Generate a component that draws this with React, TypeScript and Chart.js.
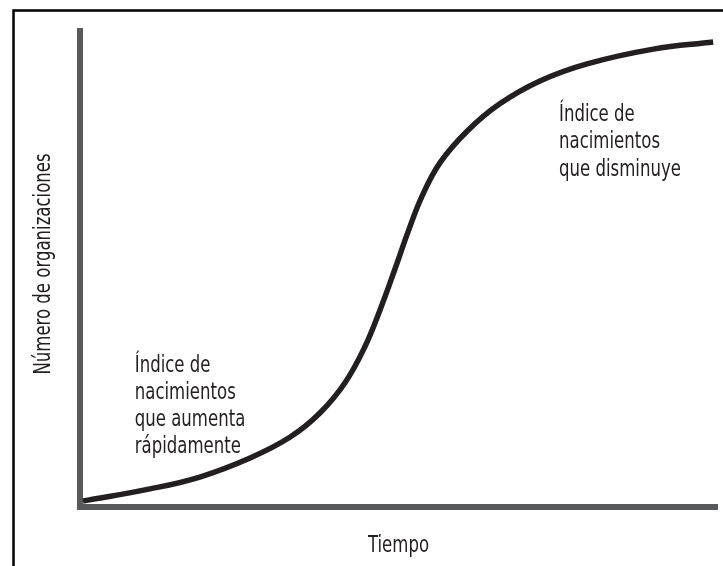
import React, { useEffect, useRef } from "react";
import { Chart, registerables } from "chart.js";

Chart.register(...registerables);

// Curve data (arbitrary units: time 0..100, organizations 0..100)
const timeValues = [0.47, 11.0, 18.8, 26.7, 33.0, 37.7, 41.6, 44.7, 47.1, 49.5, 51.5, 53.7, 56.5, 60.8, 65.9, 72.2, 79.6, 90.0, 99.4];
const orgValues = [1.26, 3.8, 6.3, 10.3, 14.7, 19.8, 26.1, 33.6, 41.4, 50.2, 57.8, 65.3, 72.3, 79.0, 84.7, 89.5, 93.1, 96.2, 97.7];

const xTitle = "Tiempo";
const yTitle = "Número de organizaciones";

const leftNoteLines = ["Índice de", "nacimientos", "que aumenta", "rápidamente"];
const rightNoteLines = ["Índice de", "nacimientos", "que disminuye"];

const FONT_FAMILY = '"DejaVu Sans Condensed", "Liberation Sans Narrow", sans-serif';
const TEXT_COLOR = "#231f20";
const AXIS_COLOR = "#58595b";
const FONT_SIZE = 23;
const SQUEEZE = 0.8;

function squeezedText(ctx: any, text: string, x: number, y: number, rot = 0) {
  ctx.save();
  ctx.translate(x, y);
  if (rot) ctx.rotate(rot);
  ctx.scale(SQUEEZE, 1);
  ctx.fillText(text, 0, 0);
  ctx.restore();
}

const notesPlugin = {
  id: "notes",
  beforeDraw(chart: any) {
    const ctx = chart.ctx;
    ctx.save();
    ctx.strokeStyle = "#000";
    ctx.lineWidth = 2.5;
    ctx.beginPath();
    ctx.moveTo(13.5, 566);
    ctx.lineTo(13.5, 10.5);
    ctx.lineTo(723, 10.5);
    ctx.stroke();
    ctx.restore();
  },
  afterDraw(chart: any) {
    const ctx = chart.ctx;
    const xs = chart.scales.x;
    const ys = chart.scales.y;
    const area = chart.chartArea;
    ctx.save();
    ctx.fillStyle = TEXT_COLOR;
    ctx.font = `${FONT_SIZE}px ${FONT_FAMILY}`;
    ctx.textBaseline = "alphabetic";
    ctx.textAlign = "left";
    const lh = 27;
    const lx = xs.getPixelForValue(8.6);
    const ly = ys.getPixelForValue(28.36);
    leftNoteLines.forEach((t, i) => squeezedText(ctx, t, lx, ly + i * lh));
    const rx = xs.getPixelForValue(75.2);
    const ry = ys.getPixelForValue(81.1);
    rightNoteLines.forEach((t, i) => squeezedText(ctx, t, rx, ry + i * 27.5));

    // axis titles
    ctx.textAlign = "center";
    ctx.textBaseline = "middle";
    squeezedText(ctx, xTitle, (area.left + area.right) / 2, area.bottom + 39);
    squeezedText(ctx, yTitle, area.left - 36, (area.top + area.bottom) / 2 - 5, -Math.PI / 2);
    ctx.restore();
  },
};

export default function App() {
  const ref = useRef<HTMLCanvasElement | null>(null);
  useEffect(() => {
    if (!ref.current) return;
    const chart = new Chart(ref.current, {
      type: "line",
      data: {
        datasets: [
          {
            data: timeValues.map((t, i) => ({ x: t, y: orgValues[i] })),
            borderColor: TEXT_COLOR,
            borderWidth: 5.5,
            pointRadius: 0,
            fill: false,
            tension: 0.4,
          },
        ],
      },
      options: {
        animation: false,
        responsive: false,
        devicePixelRatio: 1,
        layout: { padding: { top: 31, right: 6, bottom: 59, left: 80 } },
        plugins: { legend: { display: false }, tooltip: { enabled: false } },
        scales: {
          x: {
            type: "linear",
            min: 0,
            max: 100,
            grid: { display: false, drawTicks: false },
            ticks: { display: false },
            border: { display: true, color: AXIS_COLOR, width: 6 },
            title: { display: false },
          },
          y: {
            type: "linear",
            min: 0,
            max: 100,
            grid: { display: false, drawTicks: false },
            ticks: { display: false },
            border: { display: true, color: AXIS_COLOR, width: 6 },
            title: { display: false },
          },
        },
      },
      plugins: [notesPlugin],
    });
    return () => chart.destroy();
  }, []);
  return (
    <div style={{ position: "absolute", left: 0, top: 0, width: 723, height: 566, background: "#fff" }}>
      <canvas ref={ref} width={723} height={566} style={{ display: "block" }} />
    </div>
  );
}
